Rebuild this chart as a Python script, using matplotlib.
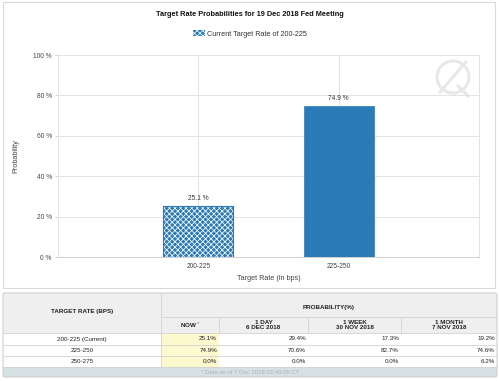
import matplotlib.pyplot as plt
from matplotlib.patches import Rectangle, Circle, FancyBboxPatch
import numpy as np

plt.rcParams['font.family'] = ['Liberation Sans', 'DejaVu Sans']
plt.rcParams['hatch.linewidth'] = 0.55

# chart data
rates = ["200-225", "225-250"]
probs = [25.1, 74.9]
legend_label = "Current Target Rate of 200-225"
title = "Target Rate Probabilities for 19 Dec 2018 Fed Meeting"

# table data
table_rates = ["200-225 (Current)", "225-250", "250-275"]
prob_now = [25.1, 74.9, 0.0]
prob_1day = [29.4, 70.6, 0.0]
prob_1week = [17.3, 82.7, 0.0]
prob_1month = [19.2, 74.6, 6.2]
col_heads = ["NOW", "1 DAY\n6 DEC 2018", "1 WEEK\n30 NOV 2018", "1 MONTH\n7 NOV 2018"]
footnote = "* Data as of 7 Dec 2018 02:43:05 CT"

blue = "#2a7bb8"
grid_c = "#e3e3e3"
W, H = 500, 381

fig = plt.figure(figsize=(5, 3.81), dpi=100)

# background overlay in pixel coords
bg = fig.add_axes([0, 0, 1, 1], zorder=-1)
bg.set_xlim(0, W)
bg.set_ylim(H, 0)
bg.axis("off")
bg.add_patch(Rectangle((3, 2), 492, 286, fill=False, ec="#d9d9d9", lw=0.8))
# watermark logo
bg.add_patch(Circle((453, 77), 16, fill=False, ec="#e8e8e8", lw=2.2))
bg.plot([440, 466], [92, 62], color="#e8e8e8", lw=2.2)
bg.plot([458, 468], [86, 96], color="#e8e8e8", lw=2.2)

# chart
ax = fig.add_axes([58 / W, 1 - 257 / H, 421 / W, 202 / H], facecolor="none")
x = np.arange(len(rates))
bars = ax.bar(x[:1], probs[:1], width=0.5, color=blue, edgecolor="white",
              hatch="xxxxxx", lw=0, label=legend_label, zorder=3)
ax.bar(x[:1], probs[:1], width=0.5, facecolor="none", edgecolor=blue, lw=0.8, zorder=4)
ax.bar(x[1:], probs[1:], width=0.5, color=blue, edgecolor=blue, lw=0.5, zorder=3)
for xi, p in zip(x, probs):
    ax.text(xi, p + 2, f"{p} %", ha="center", va="bottom", fontsize=4.8, color="#333333")

ax.set_xlim(-1, 2)
ax.set_ylim(0, 100)
ax.set_yticks(range(0, 101, 20))
ax.set_yticklabels([f"{v} %" for v in range(0, 101, 20)])
ax.set_xticks(x)
ax.set_xticklabels(rates)
ax.tick_params(axis="both", labelsize=4.8, labelcolor="#444444", length=2.5,
               color="#cccccc", width=0.6, pad=2)
ax.tick_params(axis="x", length=0, pad=4)
ax.grid(True, color=grid_c, lw=0.7, zorder=0)
for s in ax.spines.values():
    s.set_color(grid_c)
    s.set_linewidth(0.7)
ax.spines["bottom"].set_color("#cfcfcf")
ax.set_ylabel("Probability", fontsize=5.2, color="#444444", labelpad=10)
ax.set_xlabel("Target Rate (in bps)", fontsize=5.2, color="#444444", labelpad=4)

fig.text(250 / W, 1 - 15 / H, title, ha="center", va="center", fontsize=5.3,
         fontweight="bold", color="#111111")
fig.legend(handles=[bars], loc="center", bbox_to_anchor=(250 / W, 1 - 34 / H),
           frameon=False, fontsize=5.2, handlelength=1.6, handleheight=0.8,
           handletextpad=0.3, labelcolor="#333333")

# table drawn in pixel coords on bg
cols = [3, 161, 219, 308, 401, 497]
y_top, y_h1, y_h2 = 293, 317, 333
row_y = [333, 345, 356, 367]
y_foot = 377
txt = dict(fontsize=4.5, color="#222222")
line_c = "#d2d2d2"

bg.add_patch(Rectangle((cols[0], y_top), cols[-1] - cols[0], y_h2 - y_top, fc="#efefef", ec="none"))
bg.add_patch(Rectangle((cols[0], row_y[-1]), cols[-1] - cols[0], y_foot - row_y[-1], fc="#d6e1e4", ec="none"))
for i in range(3):
    bg.add_patch(Rectangle((cols[1], row_y[i]), cols[2] - cols[1], row_y[i + 1] - row_y[i],
                           fc="#fcf9cf", ec="none"))
bg.add_patch(FancyBboxPatch((cols[0], y_top), cols[-1] - cols[0], y_foot - y_top,
                            boxstyle="round,pad=0,rounding_size=2", fill=False, ec="#cfcfcf", lw=0.8))
# grid lines
bg.plot([cols[1], cols[1]], [y_top, row_y[-1]], color=line_c, lw=0.6)
for c in cols[2:-1]:
    bg.plot([c, c], [y_h1, y_h2], color=line_c, lw=0.6)
bg.plot([cols[1], cols[-1]], [y_h1, y_h1], color=line_c, lw=0.6)
for yy in row_y:
    bg.plot([cols[0], cols[-1]], [yy, yy], color=line_c, lw=0.6)

bg.text((cols[0] + cols[1]) / 2, (y_top + y_h2) / 2 - 2, "TARGET RATE (BPS)", ha="center",
        va="center", fontweight="bold", **txt)
bg.text((cols[1] + cols[-1]) / 2, (y_top + y_h1) / 2 + 2, "PROBABILITY(%)", ha="center",
        va="center", fontweight="bold", **txt)
for j, h in enumerate(col_heads):
    cx = (cols[j + 1] + cols[j + 2]) / 2
    label = h + r"$^*$" if j == 0 else h
    bg.text(cx, (y_h1 + y_h2) / 2, label, ha="center", va="center",
            fontweight="bold", linespacing=1.1, **txt)

series = [prob_now, prob_1day, prob_1week, prob_1month]
for i, r in enumerate(table_rates):
    cy = (row_y[i] + row_y[i + 1]) / 2
    bg.text((cols[0] + cols[1]) / 2, cy, r, ha="center", va="center", **txt)
    for j, s in enumerate(series):
        bg.text(cols[j + 2] - 2, cy, f"{s[i]:.1f}%", ha="right", va="center", **txt)
bg.text((cols[0] + cols[-1]) / 2, (row_y[-1] + y_foot) / 2, footnote, ha="center",
        va="center", fontsize=4.3, color="#a9b4b8")

fig.savefig("out.png", dpi=100, facecolor="white")
